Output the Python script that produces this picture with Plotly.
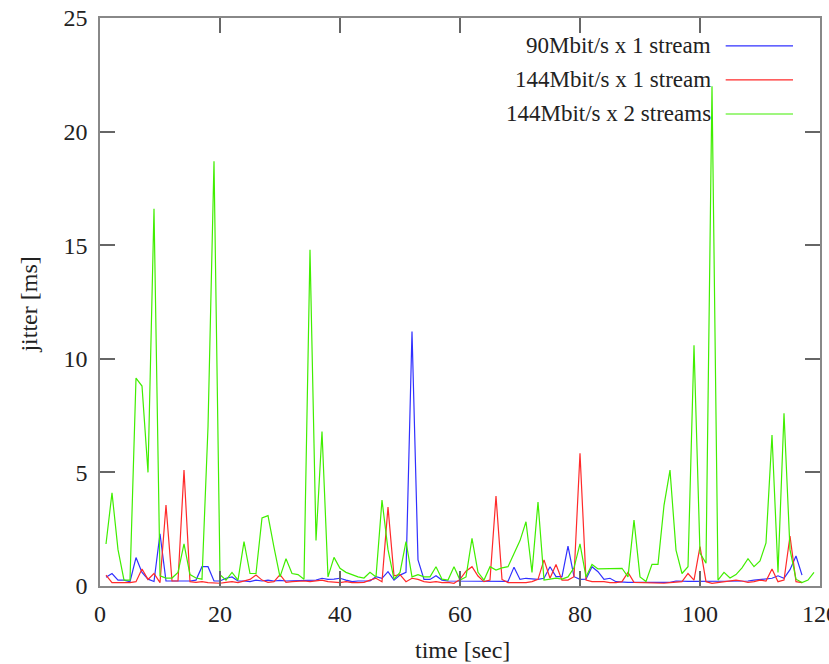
import plotly.graph_objects as go

# jitter samples, one per second
t_blue = list(range(1, 118))
blue = [0.38, 0.55, 0.26, 0.26, 0.19, 1.25, 0.6, 0.3, 0.2, 2.3,
        0.22, 0.22, 0.22, 0.19, 0.22, 0.26, 0.85, 0.85, 0.22, 0.22,
        0.34, 0.4, 0.22, 0.22, 0.19, 0.26, 0.22, 0.26, 0.22, 0.25,
        0.22, 0.23, 0.23, 0.24, 0.23, 0.26, 0.34, 0.29, 0.3, 0.34,
        0.26, 0.19, 0.22, 0.22, 0.22, 0.41, 0.34, 0.63, 0.26, 0.48,
        0.6, 11.2, 1.15, 0.29, 0.29, 0.45, 0.26, 0.22, 0.22, 0.2,
        0.19, 0.2, 0.19, 0.2, 0.2, 0.2, 0.2, 0.2, 0.83, 0.29,
        0.34, 0.3, 0.29, 0.34, 0.85, 0.41, 0.41, 1.75, 0.41, 0.29,
        0.3, 0.85, 0.63, 0.29, 0.34, 0.19, 0.16, 0.16, 0.16, 0.16,
        0.16, 0.16, 0.16, 0.16, 0.16, 0.22, 0.2, 0.2, 0.2, 0.2,
        0.2, 0.2, 0.2, 0.2, 0.2, 0.2, 0.2, 0.22, 0.26, 0.29,
        0.29, 0.34, 0.45, 0.34, 0.72, 1.32, 0.48]

t_red = list(range(1, 118))
red = [0.48, 0.15, 0.15, 0.15, 0.15, 0.19, 0.75, 0.29, 0.55, 0.15,
       3.56, 0.22, 0.22, 5.1, 0.19, 0.16, 0.19, 0.15, 0.12, 0.12,
       0.16, 0.19, 0.15, 0.22, 0.29, 0.48, 0.26, 0.16, 0.19, 0.5,
       0.16, 0.19, 0.22, 0.22, 0.19, 0.22, 0.26, 0.19, 0.16, 0.15,
       0.19, 0.15, 0.15, 0.16, 0.26, 0.34, 0.19, 3.48, 0.45, 0.5,
       0.19, 0.34, 0.29, 0.19, 0.16, 0.19, 0.15, 0.16, 0.12, 0.29,
       0.65, 0.85, 0.44, 0.19, 0.26, 3.96, 0.29, 0.15, 0.15, 0.15,
       0.15, 0.19, 0.29, 1.15, 0.34, 0.95, 0.26, 0.26, 0.41, 5.84,
       0.26, 0.19, 0.19, 0.19, 0.15, 0.15, 0.19, 0.6, 0.16, 0.15,
       0.12, 0.12, 0.12, 0.12, 0.15, 0.16, 0.19, 0.55, 0.26, 1.73,
       0.19, 0.12, 0.15, 0.19, 0.22, 0.26, 0.22, 0.16, 0.19, 0.26,
       0.22, 0.75, 0.19, 0.26, 2.2, 0.19, 0.15]

t_green = list(range(1, 120))
green = [1.85, 4.1, 1.6, 0.26, 0.26, 9.15, 8.8, 5.0, 16.6, 0.45,
         0.35, 0.35, 0.6, 1.85, 0.5, 0.35, 0.3, 7.0, 18.7, 0.5,
         0.26, 0.6, 0.26, 1.95, 0.55, 0.55, 3.0, 3.1, 1.7, 0.4,
         1.2, 0.55, 0.5, 0.3, 14.8, 2.0, 6.8, 0.4, 1.26, 0.78,
         0.6, 0.5, 0.4, 0.35, 0.6, 0.4, 3.78, 1.6, 0.3, 0.6,
         1.95, 0.4, 0.5, 0.4, 0.4, 0.85, 0.3, 0.26, 0.85, 0.26,
         0.4, 2.1, 0.6, 0.26, 0.85, 0.7, 0.8, 0.85, 1.4, 2.0,
         2.83, 0.6, 3.7, 0.26, 0.3, 0.35, 0.3, 0.4, 0.8, 1.85,
         0.4, 0.95, 0.75, 0.75, 0.75, 0.78, 0.78, 0.4, 2.9, 0.4,
         0.2, 0.95, 0.95, 3.55, 5.1, 1.58, 0.55, 0.85, 10.6, 1.45,
         1.0, 22.0, 0.26, 0.6, 0.35, 0.5, 0.8, 1.2, 0.85, 1.1,
         1.9, 6.65, 0.6, 7.6, 1.6, 0.3, 0.15, 0.26, 0.6]

names = ["90Mbit/s x 1 stream", "144Mbit/s x 1 stream", "144Mbit/s x 2 streams"]
colors = ["#3030ff", "#ff2a2a", "#40ee00"]

serif = "Liberation Serif, Times New Roman, serif"
txt = dict(family=serif, size=24, color="#222")

fig = go.Figure()
for x, y, n, c in zip([t_blue, t_red, t_green], [blue, red, green], names, colors):
    fig.add_trace(go.Scatter(x=x, y=y, mode="lines", name=n,
                             line=dict(color=c, width=1.2), showlegend=False))

# gnuplot-style key: text on the left, line sample on the right
for i, (n, c) in enumerate(zip(names, colors)):
    yk = 0.951 - i * 0.06
    fig.add_annotation(x=0.852, y=yk, xref="paper", yref="paper", text=n,
                       showarrow=False, xanchor="right", yanchor="middle",
                       font=dict(family=serif, size=23, color="#222"))
    fig.add_shape(type="line", xref="paper", yref="paper", x0=0.869, x1=0.9625,
                  y0=yk, y1=yk, line=dict(color=c, width=1.2))

# axis titles placed by hand
fig.add_annotation(x=0.504, y=-0.113, xref="paper", yref="paper", text="time [sec]",
                   showarrow=False, xanchor="center", yanchor="middle", font=txt)
fig.add_annotation(x=-0.099, y=0.495, xref="paper", yref="paper", text="jitter [ms]",
                   showarrow=False, xanchor="center", yanchor="middle", textangle=-90,
                   font=txt)

axis_common = dict(showline=True, linecolor="#888", linewidth=1.5, mirror="ticks",
                   ticks="inside", ticklen=15, tickcolor="#666", tickwidth=1.5,
                   showgrid=False, zeroline=False, automargin=False,
                   ticklabeloverflow="allow", tickfont=txt)

fig.update_layout(
    width=829, height=664,
    margin=dict(l=100, r=9, t=18, b=78),
    plot_bgcolor="white", paper_bgcolor="white",
    xaxis=dict(range=[0, 120], dtick=20, ticklabelstandoff=5, **axis_common),
    yaxis=dict(range=[0, 25], dtick=5, ticklabelstandoff=6, **axis_common),
)

# drop the default 8px body margin so the figure sits at the window corner
fig.write_html("out.html", config={"displayModeBar": False},
               post_script="document.body.style.margin='0';")
